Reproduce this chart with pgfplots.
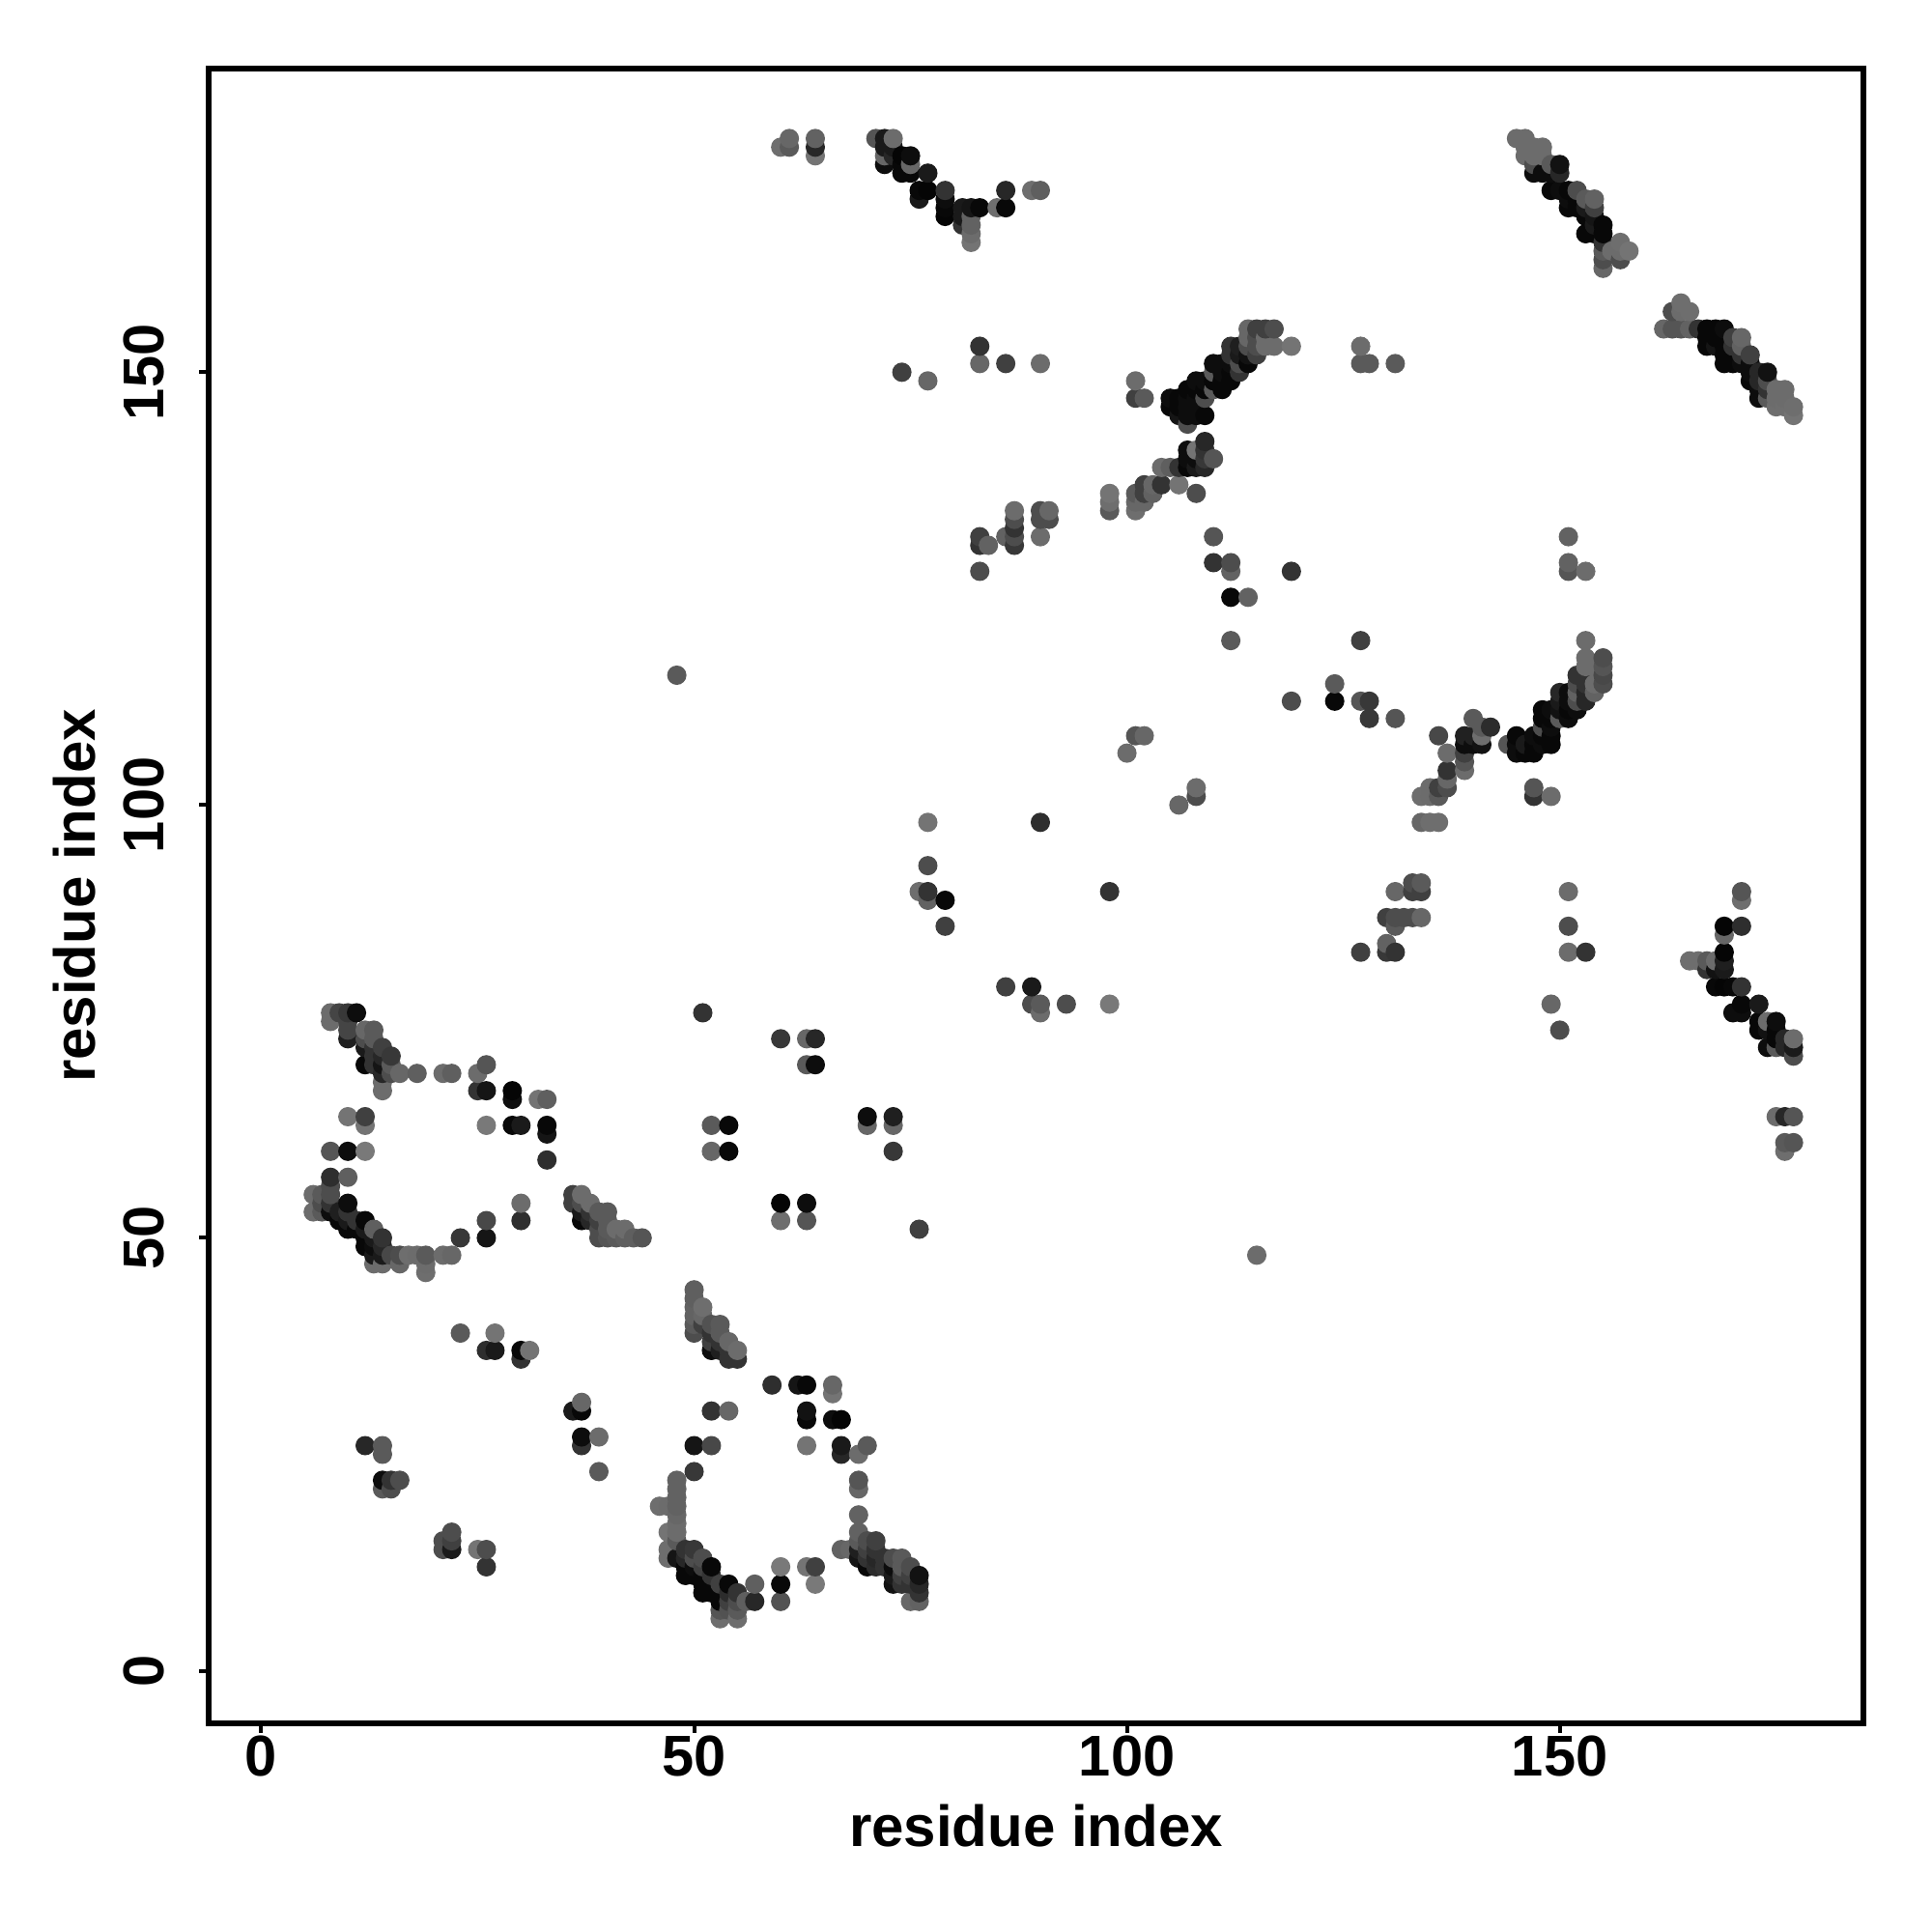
\documentclass[border=0pt]{standalone}
\usepackage{fontspec}
\setmainfont{Liberation Sans}
\usepackage{pgfplots}
\pgfplotsset{compat=1.18}

\begin{document}
\begin{tikzpicture}
\useasboundingbox (0,0) rectangle (500pt,500pt);
\begin{axis}[
  at={(54pt,54pt)}, anchor=south west,
  scale only axis, width=428.25pt, height=428.25pt,
  xmin=-6.08, xmax=185.08, ymin=-6.08, ymax=185.08,
  xtick={0,50,100,150}, ytick={0,50,100,150},
  tick pos=left, tick align=outside, major tick length=2.4pt,
  tick style={black, line width=1pt},
  axis line style={line width=1.5pt},
  /pgf/number format/assume math mode=true,
  tick label style={font=\fontsize{14.9}{16}\selectfont\bfseries},
  xticklabel style={anchor=base, yshift=-11.2pt},
  yticklabel style={rotate=90, anchor=base, yshift=9.3pt},
  xlabel={residue index}, ylabel={residue index},
  every axis x label/.style={at={(axis description cs:0.5,0)}, anchor=base, yshift=-31.8pt, font=\fontsize{15}{16}\selectfont\bfseries},
  every axis y label/.style={at={(axis description cs:0,0.5)}, rotate=90, anchor=base, yshift=29.4pt, font=\fontsize{15}{16}\selectfont\bfseries},
  colormap={bw}{gray(0cm)=(0); gray(1cm)=(1)},
  point meta min=0, point meta max=1,
  clip=false,
]
\addplot[scatter, only marks, mark=*, mark size=2.3pt, point meta=explicit,
  scatter/use mapped color={draw=mapped color, fill=mapped color}] coordinates {
(6,53)[0.42] (6,55)[0.42]
(7,53)[0.35] (7,54)[0.3] (7,55)[0.35]
(8,53)[0.05] (8,54)[0.2] (8,55)[0.3] (8,56)[0.3] (8,57)[0.18] (8,60)[0.33] (8,75)[0.42] (8,76)[0.42]
(9,52)[0.03] (9,53)[0.12] (9,76)[0.27]
(10,51)[0.03] (10,52)[0.1] (10,53)[0.2] (10,54)[0.05] (10,57)[0.37] (10,60)[0.05] (10,64)[0.45] (10,73)[0.12] (10,74)[0.27] (10,75)[0.27] (10,76)[0.22]
(11,51)[0.03] (11,52)[0.2] (11,76)[0.05]
(12,26)[0.15] (12,49)[0.03] (12,50)[0.03] (12,51)[0.1] (12,52)[0.03] (12,60)[0.47] (12,63)[0.45] (12,64)[0.25] (12,70)[0.03] (12,72)[0.1] (12,73)[0.3] (12,74)[0.4]
(13,47)[0.42] (13,48)[0.1] (13,49)[0.05] (13,50)[0.1] (13,51)[0.37] (13,70)[0.2] (13,71)[0.2] (13,72)[0.2] (13,73)[0.35] (13,74)[0.35]
(14,21)[0.35] (14,22)[0.05] (14,25)[0.35] (14,26)[0.35] (14,47)[0.42] (14,48)[0.1] (14,49)[0.15] (14,50)[0.2] (14,67)[0.42] (14,68)[0.42] (14,69)[0.15] (14,70)[0.08] (14,71)[0.15] (14,72)[0.25]
(15,21)[0.3] (15,22)[0.2] (15,48)[0.28] (15,69)[0.3] (15,70)[0.35] (15,71)[0.22]
(16,22)[0.3] (16,47)[0.4] (16,48)[0.3] (16,69)[0.4]
(17,48)[0.43]
(18,48)[0.42] (18,69)[0.37]
(19,46)[0.43] (19,47)[0.42] (19,48)[0.35]
(21,14)[0.3] (21,15)[0.3] (21,48)[0.42] (21,69)[0.42]
(22,14)[0.1] (22,15)[0.25] (22,16)[0.3] (22,48)[0.4] (22,69)[0.37]
(23,39)[0.35] (23,50)[0.22]
(25,14)[0.45] (25,67)[0.2] (25,69)[0.42]
(26,12)[0.2] (26,14)[0.3] (26,37)[0.18] (26,50)[0.08] (26,52)[0.28] (26,63)[0.47] (26,67)[0.08] (26,70)[0.33]
(27,37)[0.1] (27,39)[0.45]
(29,63)[0.03] (29,66)[0.06] (29,67)[0.02]
(30,36)[0.2] (30,37)[0.03] (30,52)[0.18] (30,54)[0.42] (30,63)[0.1]
(31,37)[0.45]
(32,66)[0.45]
(33,59)[0.18] (33,62)[0.08] (33,63)[0.03] (33,66)[0.37]
(36,30)[0.1] (36,54)[0.25] (36,55)[0.25]
(37,26)[0.2] (37,27)[0.05] (37,30)[0.03] (37,31)[0.4] (37,52)[0.03] (37,53)[0.1] (37,54)[0.3] (37,55)[0.42]
(38,52)[0.15] (38,53)[0.2] (38,54)[0.42]
(39,23)[0.35] (39,27)[0.42] (39,50)[0.3] (39,51)[0.3] (39,52)[0.25] (39,53)[0.35]
(40,50)[0.33] (40,51)[0.35] (40,52)[0.35] (40,53)[0.35]
(41,50)[0.35] (41,51)[0.42]
(42,50)[0.37] (42,51)[0.42]
(43,50)[0.37]
(44,50)[0.33]
(46,19)[0.43]
(47,13)[0.43] (47,14)[0.43] (47,16)[0.45] (47,19)[0.42]
(48,13)[0.08] (48,15)[0.35] (48,16)[0.42] (48,17)[0.42] (48,18)[0.4] (48,19)[0.38] (48,20)[0.38] (48,21)[0.38] (48,22)[0.38] (48,115)[0.35]
(49,11)[0.03] (49,12)[0.03] (49,13)[0.15] (49,14)[0.2]
(50,11)[0.03] (50,12)[0.05] (50,13)[0.3] (50,14)[0.22] (50,23)[0.22] (50,26)[0.08] (50,39)[0.3] (50,40)[0.35] (50,41)[0.38] (50,42)[0.38] (50,43)[0.37] (50,44)[0.37]
(51,9)[0.03] (51,10)[0.03] (51,11)[0.03] (51,12)[0.25] (51,13)[0.3] (51,40)[0.25] (51,41)[0.4] (51,42)[0.43] (51,76)[0.2]
(52,9)[0.03] (52,10)[0.03] (52,11)[0.2] (52,12)[0.03] (52,26)[0.28] (52,30)[0.2] (52,37)[0.05] (52,38)[0.25] (52,39)[0.2] (52,40)[0.32] (52,60)[0.4] (52,63)[0.35]
(53,6)[0.43] (53,7)[0.33] (53,8)[0.03] (53,9)[0.03] (53,10)[0.25] (53,37)[0.12] (53,38)[0.2] (53,39)[0.35] (53,40)[0.35]
(54,7)[0.32] (54,8)[0.25] (54,9)[0.17] (54,10)[0.03] (54,30)[0.4] (54,36)[0.2] (54,37)[0.2] (54,38)[0.4] (54,60)[0.03] (54,63)[0.03]
(55,6)[0.43] (55,7)[0.35] (55,8)[0.3] (55,9)[0.2] (55,36)[0.2] (55,37)[0.42]
(56,8)[0.37]
(57,8)[0.15] (57,10)[0.37]
(59,33)[0.18]
(60,8)[0.32] (60,10)[0.03] (60,12)[0.47] (60,52)[0.43] (60,54)[0.02] (60,73)[0.22] (60,176)[0.43]
(61,176)[0.35] (61,177)[0.4]
(62,33)[0.08]
(63,12)[0.45] (63,26)[0.45] (63,29)[0.03] (63,30)[0.07] (63,33)[0.03] (63,52)[0.33] (63,54)[0.05] (63,70)[0.35] (63,73)[0.4]
(64,10)[0.47] (64,12)[0.25] (64,70)[0.05] (64,73)[0.15] (64,175)[0.45] (64,176)[0.15] (64,177)[0.38]
(66,29)[0.05] (66,32)[0.45] (66,33)[0.4]
(67,14)[0.38] (67,25)[0.15] (67,26)[0.1] (67,29)[0.02]
(68,14)[0.4]
(69,13)[0.08] (69,14)[0.12] (69,15)[0.35] (69,16)[0.38] (69,18)[0.38] (69,21)[0.4] (69,22)[0.33] (69,25)[0.42]
(70,12)[0.03] (70,13)[0.2] (70,14)[0.25] (70,15)[0.3] (70,26)[0.35] (70,63)[0.4] (70,64)[0.05]
(71,12)[0.17] (71,13)[0.15] (71,14)[0.2] (71,15)[0.25] (71,177)[0.33]
(72,12)[0.2] (72,13)[0.2] (72,174)[0.05] (72,175)[0.4] (72,176)[0.1] (72,177)[0.1]
(73,10)[0.07] (73,11)[0.1] (73,12)[0.05] (73,13)[0.3] (73,60)[0.22] (73,63)[0.4] (73,64)[0.12] (73,175)[0.15] (73,176)[0.1] (73,177)[0.42]
(74,10)[0.2] (74,11)[0.25] (74,12)[0.35] (74,13)[0.35] (74,150)[0.25] (74,173)[0.03] (74,174)[0.03] (74,175)[0.02]
(75,8)[0.4] (75,10)[0.2] (75,11)[0.25] (75,12)[0.3] (75,173)[0.03] (75,174)[0.4] (75,175)[0.05]
(76,8)[0.38] (76,9)[0.2] (76,10)[0.15] (76,11)[0.07] (76,51)[0.25] (76,90)[0.43] (76,170)[0.1] (76,171)[0.03]
(77,89)[0.38] (77,90)[0.2] (77,93)[0.3] (77,98)[0.45] (77,149)[0.4] (77,171)[0.02] (77,173)[0.1]
(79,86)[0.25] (79,89)[0.03] (79,168)[0.02] (79,169)[0.03] (79,170)[0.05] (79,171)[0.2]
(81,167)[0.2] (81,168)[0.1] (81,169)[0.1]
(82,165)[0.45] (82,166)[0.42] (82,167)[0.38] (82,168)[0.38] (82,169)[0.08]
(83,127)[0.3] (83,130)[0.2] (83,131)[0.25] (83,151)[0.4] (83,153)[0.2] (83,169)[0.03]
(84,130)[0.38]
(85,169)[0.43]
(86,79)[0.25] (86,131)[0.38] (86,151)[0.25] (86,169)[0.03] (86,171)[0.15]
(87,130)[0.22] (87,131)[0.3] (87,132)[0.2] (87,133)[0.3] (87,134)[0.42]
(89,77)[0.3] (89,79)[0.1] (89,171)[0.43]
(90,76)[0.42] (90,77)[0.35] (90,98)[0.18] (90,131)[0.42] (90,133)[0.3] (90,134)[0.3] (90,151)[0.42] (90,171)[0.37]
(91,133)[0.3] (91,134)[0.4]
(93,77)[0.3]
(98,77)[0.47] (98,90)[0.2] (98,134)[0.35] (98,135)[0.43] (98,136)[0.45]
(100,106)[0.42]
(101,108)[0.33] (101,134)[0.43] (101,135)[0.4] (101,136)[0.35] (101,147)[0.25] (101,149)[0.42]
(102,108)[0.4] (102,135)[0.4] (102,136)[0.25] (102,137)[0.25] (102,147)[0.35]
(103,136)[0.38] (103,137)[0.4]
(104,137)[0.2] (104,139)[0.42]
(105,139)[0.37] (105,146)[0.03] (105,147)[0.05]
(106,100)[0.4] (106,137)[0.45] (106,139)[0.2] (106,145)[0.08] (106,146)[0.03] (106,147)[0.03]
(107,139)[0.03] (107,140)[0.05] (107,141)[0.05] (107,144)[0.3] (107,145)[0.05] (107,146)[0.05] (107,147)[0.05] (107,148)[0.03]
(108,101)[0.3] (108,102)[0.42] (108,136)[0.3] (108,139)[0.1] (108,140)[0.05] (108,141)[0.45] (108,145)[0.05] (108,146)[0.05] (108,147)[0.05] (108,148)[0.03] (108,149)[0.05]
(109,139)[0.15] (109,140)[0.22] (109,141)[0.2] (109,142)[0.15] (109,145)[0.03] (109,147)[0.3] (109,148)[0.03] (109,149)[0.05]
(110,128)[0.2] (110,131)[0.33] (110,140)[0.33] (110,148)[0.35] (110,149)[0.03] (110,150)[0.35] (110,151)[0.05]
(111,148)[0.03] (111,149)[0.03] (111,150)[0.05] (111,151)[0.05]
(112,119)[0.35] (112,124)[0.03] (112,127)[0.38] (112,128)[0.3] (112,149)[0.03] (112,150)[0.03] (112,151)[0.05] (112,152)[0.2] (112,153)[0.2]
(113,150)[0.2] (113,151)[0.3] (113,152)[0.1] (113,153)[0.12]
(114,124)[0.38] (114,151)[0.03] (114,152)[0.07] (114,153)[0.3] (114,154)[0.4] (114,155)[0.4]
(115,48)[0.42] (115,152)[0.25] (115,153)[0.3] (115,154)[0.3] (115,155)[0.25]
(116,153)[0.42] (116,154)[0.42] (116,155)[0.25]
(117,153)[0.42] (117,155)[0.3]
(119,112)[0.3] (119,127)[0.2] (119,153)[0.45]
(124,112)[0.03] (124,114)[0.35]
(127,83)[0.25] (127,112)[0.33] (127,119)[0.25] (127,151)[0.35] (127,153)[0.42]
(128,110)[0.22] (128,112)[0.22] (128,151)[0.35]
(130,83)[0.22] (130,84)[0.38] (130,87)[0.25]
(131,83)[0.2] (131,86)[0.35] (131,87)[0.3] (131,90)[0.4] (131,110)[0.33] (131,151)[0.35]
(132,87)[0.3]
(133,87)[0.3] (133,90)[0.25] (133,91)[0.3]
(134,87)[0.4] (134,90)[0.25] (134,91)[0.35] (134,98)[0.4] (134,101)[0.43]
(135,98)[0.43] (135,101)[0.42] (135,102)[0.42]
(136,98)[0.43] (136,101)[0.35] (136,102)[0.25] (136,108)[0.28]
(137,102)[0.3] (137,103)[0.4] (137,104)[0.2] (137,106)[0.42]
(139,104)[0.42] (139,105)[0.33] (139,106)[0.25] (139,107)[0.05] (139,108)[0.13]
(140,107)[0.05] (140,108)[0.13] (140,110)[0.35]
(141,107)[0.07] (141,108)[0.43] (141,109)[0.35]
(142,109)[0.17]
(144,107)[0.33]
(145,106)[0.05] (145,107)[0.05] (145,108)[0.03] (145,177)[0.42]
(146,106)[0.03] (146,107)[0.1] (146,175)[0.42] (146,176)[0.42] (146,177)[0.42]
(147,101)[0.2] (147,102)[0.33] (147,106)[0.03] (147,107)[0.03] (147,108)[0.05] (147,173)[0.05] (147,174)[0.3] (147,175)[0.42] (147,176)[0.42]
(148,107)[0.05] (148,108)[0.03] (148,109)[0.3] (148,110)[0.03] (148,111)[0.03] (148,173)[0.05] (148,175)[0.42] (148,176)[0.42]
(149,77)[0.4] (149,101)[0.42] (149,107)[0.03] (149,108)[0.03] (149,109)[0.05] (149,110)[0.03] (149,111)[0.05] (149,171)[0.03] (149,173)[0.05] (149,174)[0.35]
(150,74)[0.3] (150,110)[0.35] (150,111)[0.07] (150,112)[0.1] (150,113)[0.15] (150,171)[0.05] (150,173)[0.15] (150,174)[0.07]
(151,83)[0.42] (151,86)[0.3] (151,90)[0.42] (151,110)[0.05] (151,111)[0.03] (151,112)[0.05] (151,113)[0.05] (151,127)[0.33] (151,128)[0.38] (151,131)[0.38] (151,169)[0.03] (151,170)[0.05] (151,171)[0.03]
(152,111)[0.05] (152,112)[0.3] (152,113)[0.38] (152,114)[0.3] (152,115)[0.2] (152,169)[0.03] (152,170)[0.03] (152,171)[0.3]
(153,83)[0.2] (153,112)[0.15] (153,113)[0.15] (153,114)[0.2] (153,116)[0.42] (153,117)[0.42] (153,119)[0.42] (153,127)[0.42] (153,166)[0.03] (153,168)[0.03] (153,169)[0.1] (153,170)[0.35]
(154,113)[0.38] (154,114)[0.42] (154,116)[0.42] (154,166)[0.03] (154,167)[0.1] (154,168)[0.08] (154,169)[0.25] (154,170)[0.38]
(155,114)[0.3] (155,115)[0.28] (155,116)[0.33] (155,117)[0.3] (155,162)[0.4] (155,163)[0.3] (155,164)[0.35] (155,165)[0.2] (155,166)[0.03] (155,167)[0.03]
(156,164)[0.42]
(157,163)[0.3] (157,164)[0.42] (157,165)[0.43]
(158,164)[0.45]
(162,155)[0.4]
(163,155)[0.33] (163,157)[0.3]
(164,155)[0.33] (164,157)[0.42] (164,158)[0.43]
(165,82)[0.43] (165,155)[0.38] (165,157)[0.43]
(166,82)[0.43] (166,155)[0.2]
(167,81)[0.2] (167,82)[0.35] (167,153)[0.03] (167,154)[0.03] (167,155)[0.03]
(168,79)[0.03] (168,81)[0.07] (168,82)[0.42] (168,153)[0.08] (168,154)[0.03] (168,155)[0.03]
(169,79)[0.02] (169,81)[0.1] (169,82)[0.12] (169,83)[0.02] (169,85)[0.4] (169,86)[0.02] (169,151)[0.03] (169,152)[0.03] (169,153)[0.03] (169,154)[0.03] (169,155)[0.05]
(170,76)[0.05] (170,79)[0.03] (170,151)[0.03] (170,152)[0.03] (170,153)[0.2] (170,154)[0.25]
(171,76)[0.05] (171,77)[0.03] (171,79)[0.2] (171,86)[0.18] (171,89)[0.43] (171,90)[0.33] (171,151)[0.05] (171,152)[0.2] (171,153)[0.38] (171,154)[0.4]
(172,149)[0.03] (172,150)[0.05] (172,151)[0.05] (172,152)[0.25]
(173,74)[0.03] (173,75)[0.03] (173,77)[0.1] (173,147)[0.05] (173,148)[0.05] (173,149)[0.15] (173,150)[0.15]
(174,72)[0.05] (174,74)[0.07] (174,75)[0.42] (174,147)[0.35] (174,148)[0.2] (174,149)[0.3] (174,150)[0.07]
(175,64)[0.42] (175,72)[0.35] (175,73)[0.03] (175,74)[0.03] (175,75)[0.05] (175,146)[0.43] (175,147)[0.42] (175,148)[0.42]
(176,60)[0.43] (176,61)[0.35] (176,64)[0.15] (176,72)[0.15] (176,73)[0.15] (176,146)[0.43] (176,147)[0.42] (176,148)[0.42]
(177,61)[0.33] (177,64)[0.33] (177,71)[0.3] (177,72)[0.1] (177,73)[0.42] (177,145)[0.45] (177,146)[0.43]
};
\end{axis}
\end{tikzpicture}
\end{document}
